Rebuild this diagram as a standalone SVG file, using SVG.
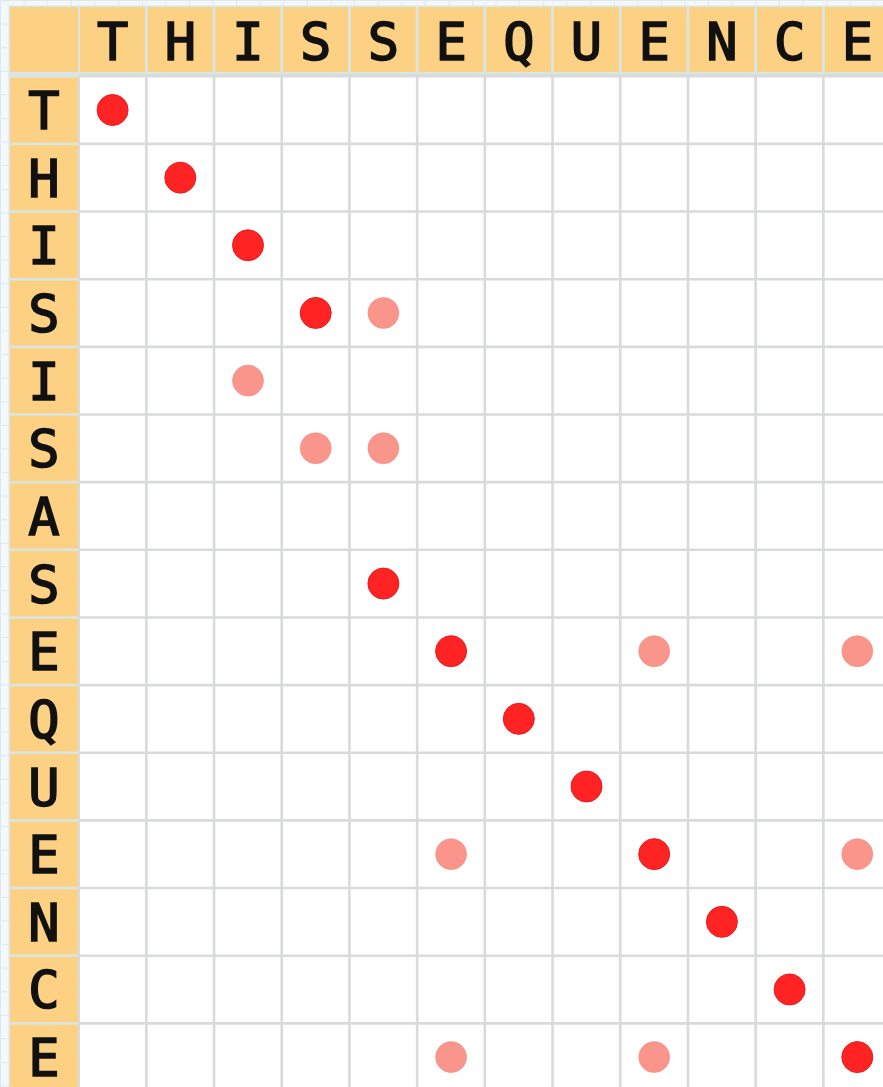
<svg xmlns="http://www.w3.org/2000/svg" width="883" height="1087" viewBox="0 0 883 1087">
<style>
.hdr{fill:#fdd183}
.lt{font-family:"DejaVu Sans Mono","Liberation Mono",monospace;font-weight:normal;font-size:52px;fill:#111111;stroke:#111111;stroke-width:1.7;text-anchor:middle}
.dk{fill:#ff2323;stroke:#e81c1c;stroke-width:1}
.lg{fill:#f9958a;stroke:#f58a7d;stroke-width:0.6}
</style>
<defs>
<pattern id="paper" x="0" y="0" width="23.6" height="23.6" patternUnits="userSpaceOnUse">
<rect width="23.6" height="23.6" fill="#f4f8fb"/>
<path d="M0 0.5H23.6M0.5 0V23.6" stroke="#dce8f2" stroke-width="1" fill="none"/>
</pattern>
</defs>
<rect width="883" height="1087" fill="url(#paper)"/>
<rect x="8.5" y="5.5" width="880" height="1090" fill="#d9e6e8"/>
<rect x="78" y="74" width="810" height="1020" fill="#d8dbda"/>
<g id="header-row">
<rect class="hdr" x="10" y="7" width="68" height="65"/>
<rect class="hdr" x="80" y="7" width="65" height="65"/><text class="lt" x="112.6" y="60">T</text>
<rect class="hdr" x="147.7" y="7" width="65" height="65"/><text class="lt" x="180.3" y="60">H</text>
<rect class="hdr" x="215.4" y="7" width="65" height="65"/><text class="lt" x="248" y="60">I</text>
<rect class="hdr" x="283.1" y="7" width="65" height="65"/><text class="lt" x="315.7" y="60">S</text>
<rect class="hdr" x="350.8" y="7" width="65" height="65"/><text class="lt" x="383.4" y="60">S</text>
<rect class="hdr" x="418.5" y="7" width="65" height="65"/><text class="lt" x="451.1" y="60">E</text>
<rect class="hdr" x="486.2" y="7" width="65" height="65"/><text class="lt" x="518.8" y="60">Q</text>
<rect class="hdr" x="553.9" y="7" width="65" height="65"/><text class="lt" x="586.5" y="60">U</text>
<rect class="hdr" x="621.6" y="7" width="65" height="65"/><text class="lt" x="654.2" y="60">E</text>
<rect class="hdr" x="689.3" y="7" width="65" height="65"/><text class="lt" x="721.9" y="60">N</text>
<rect class="hdr" x="757" y="7" width="65" height="65"/><text class="lt" x="789.6" y="60">C</text>
<rect class="hdr" x="824.7" y="7" width="65" height="65"/><text class="lt" x="857.3" y="60">E</text>
</g>
<g id="header-col">
<rect class="hdr" x="10" y="77.5" width="68" height="65.2"/><text class="lt" x="44" y="129">T</text>
<rect class="hdr" x="10" y="145.15" width="68" height="65.2"/><text class="lt" x="44" y="196.65">H</text>
<rect class="hdr" x="10" y="212.8" width="68" height="65.2"/><text class="lt" x="44" y="264.3">I</text>
<rect class="hdr" x="10" y="280.45" width="68" height="65.2"/><text class="lt" x="44" y="331.95">S</text>
<rect class="hdr" x="10" y="348.1" width="68" height="65.2"/><text class="lt" x="44" y="399.6">I</text>
<rect class="hdr" x="10" y="415.75" width="68" height="65.2"/><text class="lt" x="44" y="467.25">S</text>
<rect class="hdr" x="10" y="483.4" width="68" height="65.2"/><text class="lt" x="44" y="534.9">A</text>
<rect class="hdr" x="10" y="551.05" width="68" height="65.2"/><text class="lt" x="44" y="602.55">S</text>
<rect class="hdr" x="10" y="618.7" width="68" height="65.2"/><text class="lt" x="44" y="670.2">E</text>
<rect class="hdr" x="10" y="686.35" width="68" height="65.2"/><text class="lt" x="44" y="737.85">Q</text>
<rect class="hdr" x="10" y="754" width="68" height="65.2"/><text class="lt" x="44" y="805.5">U</text>
<rect class="hdr" x="10" y="821.65" width="68" height="65.2"/><text class="lt" x="44" y="873.15">E</text>
<rect class="hdr" x="10" y="889.3" width="68" height="65.2"/><text class="lt" x="44" y="940.8">N</text>
<rect class="hdr" x="10" y="956.95" width="68" height="65.2"/><text class="lt" x="44" y="1008.45">C</text>
<rect class="hdr" x="10" y="1024.6" width="68" height="65.2"/><text class="lt" x="44" y="1076.1">E</text>
</g>
<g id="grid" fill="#ffffff">
<rect x="80" y="77.5" width="810" height="1015"/>
</g>
<g id="gridlines" stroke="#d8dbda" stroke-width="2.6">
<line x1="146.35" y1="74" x2="146.35" y2="1087"/>
<line x1="214.05" y1="74" x2="214.05" y2="1087"/>
<line x1="281.75" y1="74" x2="281.75" y2="1087"/>
<line x1="349.45" y1="74" x2="349.45" y2="1087"/>
<line x1="417.15" y1="74" x2="417.15" y2="1087"/>
<line x1="484.85" y1="74" x2="484.85" y2="1087"/>
<line x1="552.55" y1="74" x2="552.55" y2="1087"/>
<line x1="620.25" y1="74" x2="620.25" y2="1087"/>
<line x1="687.95" y1="74" x2="687.95" y2="1087"/>
<line x1="755.65" y1="74" x2="755.65" y2="1087"/>
<line x1="823.35" y1="74" x2="823.35" y2="1087"/>
<line x1="78" y1="143.9" x2="883" y2="143.9"/>
<line x1="78" y1="211.55" x2="883" y2="211.55"/>
<line x1="78" y1="279.2" x2="883" y2="279.2"/>
<line x1="78" y1="346.85" x2="883" y2="346.85"/>
<line x1="78" y1="414.5" x2="883" y2="414.5"/>
<line x1="78" y1="482.15" x2="883" y2="482.15"/>
<line x1="78" y1="549.8" x2="883" y2="549.8"/>
<line x1="78" y1="617.45" x2="883" y2="617.45"/>
<line x1="78" y1="685.1" x2="883" y2="685.1"/>
<line x1="78" y1="752.75" x2="883" y2="752.75"/>
<line x1="78" y1="820.4" x2="883" y2="820.4"/>
<line x1="78" y1="888.05" x2="883" y2="888.05"/>
<line x1="78" y1="955.7" x2="883" y2="955.7"/>
<line x1="78" y1="1023.35" x2="883" y2="1023.35"/>
</g>
<g id="dots">
<circle class="dk" cx="112.6" cy="110" r="15.5"/>
<circle class="dk" cx="180.3" cy="177.65" r="15.5"/>
<circle class="dk" cx="248" cy="245.3" r="15.5"/>
<circle class="dk" cx="315.7" cy="312.95" r="15.5"/>
<circle class="lg" cx="383.4" cy="312.95" r="15.5"/>
<circle class="lg" cx="248" cy="380.6" r="15.5"/>
<circle class="lg" cx="315.7" cy="448.25" r="15.5"/>
<circle class="lg" cx="383.4" cy="448.25" r="15.5"/>
<circle class="dk" cx="383.4" cy="583.55" r="15.5"/>
<circle class="dk" cx="451.1" cy="651.2" r="15.5"/>
<circle class="lg" cx="654.2" cy="651.2" r="15.5"/>
<circle class="lg" cx="857.3" cy="651.2" r="15.5"/>
<circle class="dk" cx="518.8" cy="718.85" r="15.5"/>
<circle class="dk" cx="586.5" cy="786.5" r="15.5"/>
<circle class="lg" cx="451.1" cy="854.15" r="15.5"/>
<circle class="dk" cx="654.2" cy="854.15" r="15.5"/>
<circle class="lg" cx="857.3" cy="854.15" r="15.5"/>
<circle class="dk" cx="721.9" cy="921.8" r="15.5"/>
<circle class="dk" cx="789.6" cy="989.45" r="15.5"/>
<circle class="lg" cx="451.1" cy="1057.1" r="15.5"/>
<circle class="lg" cx="654.2" cy="1057.1" r="15.5"/>
<circle class="dk" cx="857.3" cy="1057.1" r="15.5"/>
</g>
</svg>
